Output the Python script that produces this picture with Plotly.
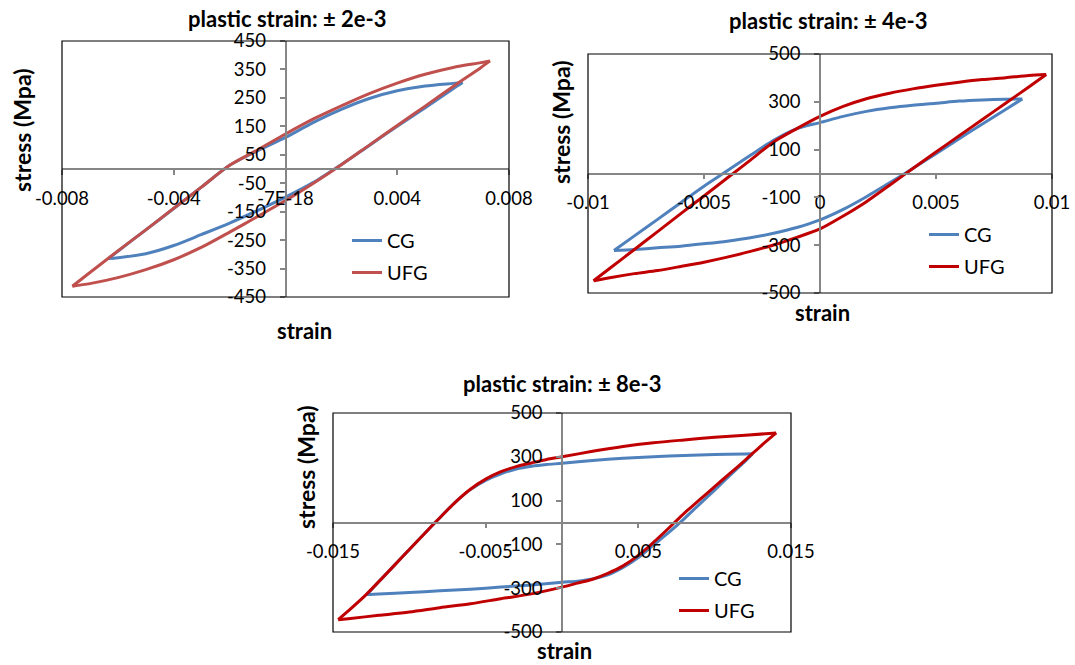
import plotly.graph_objects as go

W, H = 1075, 665
FONT = "Lato"

# ---------------- data (strain, stress in MPa) ----------------
# Panel 1: plastic strain +/- 2e-3
cg1_strain = [-0.00634, -0.006, -0.005, -0.004, -0.003, -0.002, -0.001, 0, 0.001, 0.002, 0.003, 0.004, 0.005, 0.006, 0.00634,
              0.006, 0.005, 0.004, 0.003, 0.002, 0.001, 0, -0.001, -0.002, -0.003, -0.004, -0.005, -0.006, -0.00634]
cg1_stress = [-315, -289, -214, -139, -63, 13, 64, 111, 164, 210, 248, 275, 292, 301, 304,
              282, 215, 150, 83, 16, -47, -99, -146, -190, -230, -269, -298, -312, -315]
ufg1_strain = [-0.00763, -0.007, -0.006, -0.005, -0.004, -0.003, -0.002, -0.001, 0, 0.001, 0.002, 0.003, 0.004, 0.005, 0.006, 0.007, 0.00732,
               0.007, 0.006, 0.005, 0.004, 0.003, 0.002, 0.001, 0, -0.001, -0.002, -0.003, -0.004, -0.005, -0.006, -0.007, -0.00763]
ufg1_stress = [-412, -364, -288, -214, -138, -63, 13, 67, 123, 176, 222, 265, 302, 333, 357, 374, 380,
               357, 290, 221, 153, 84, 15, -50, -111, -167, -222, -275, -319, -354, -382, -403, -412]

# Panel 2: plastic strain +/- 4e-3
cg2_strain = [-0.00888, -0.008, -0.007, -0.006, -0.005, -0.004, -0.003, -0.002, -0.001, 0, 0.001, 0.002, 0.003, 0.004, 0.005, 0.006, 0.007, 0.008, 0.00872,
              0.008, 0.007, 0.006, 0.005, 0.004, 0.003, 0.002, 0.001, 0, -0.001, -0.002, -0.003, -0.004, -0.005, -0.006, -0.007, -0.008, -0.00888]
cg2_stress = [-322, -261, -192, -122, -53, 11, 76, 139, 188, 213, 239, 260, 275, 286, 294, 303, 308, 311, 312,
              268, 207, 146, 83, 21, -39, -97, -150, -194, -226, -250, -269, -283, -294, -304, -311, -318, -322]
ufg2_strain = [-0.00976, -0.009, -0.008, -0.007, -0.006, -0.005, -0.004, -0.003, -0.002, -0.001, 0, 0.001, 0.002, 0.003, 0.004, 0.005, 0.006, 0.007, 0.008, 0.009, 0.00975,
               0.009, 0.008, 0.007, 0.006, 0.005, 0.004, 0.003, 0.002, 0.001, 0, -0.001, -0.002, -0.003, -0.004, -0.005, -0.006, -0.007, -0.008, -0.009, -0.00976]
ufg2_stress = [-449, -392, -318, -243, -168, -94, -19, 56, 132, 188, 239, 281, 313, 336, 354, 369, 382, 393, 401, 410, 414,
               362, 294, 226, 158, 90, 21, -49, -118, -178, -232, -267, -299, -326, -350, -371, -389, -406, -419, -435, -449]

# Panel 3: plastic strain +/- 8e-3
cg3_strain = [-0.01278, -0.012, -0.011, -0.010, -0.009, -0.008, -0.007, -0.006, -0.005, -0.004, -0.003, -0.002, -0.001, 0, 0.002, 0.004, 0.006, 0.008, 0.010, 0.012, 0.01249,
              0.012, 0.011, 0.010, 0.009, 0.008, 0.007, 0.006, 0.005, 0.004, 0.003, 0.002, 0.001, 0, -0.002, -0.004, -0.006, -0.008, -0.010, -0.012, -0.01278]
cg3_stress = [-329, -270, -197, -123, -50, 22, 92, 150, 192, 222, 244, 257, 265, 270, 283, 293, 300, 306, 310, 313, 314,
              280, 215, 148, 83, 17, -45, -102, -160, -205, -239, -258, -268, -273, -285, -295, -305, -312, -320, -326, -329]
ufg3_strain = [-0.01466, -0.014, -0.013, -0.012, -0.011, -0.010, -0.009, -0.008, -0.007, -0.006, -0.005, -0.004, -0.003, -0.002, -0.001, 0, 0.002, 0.004, 0.006, 0.008, 0.010, 0.012, 0.01403,
               0.013, 0.012, 0.011, 0.010, 0.009, 0.008, 0.007, 0.006, 0.005, 0.004, 0.003, 0.002, 0.001, 0, -0.002, -0.004, -0.006, -0.008, -0.010, -0.012, -0.014, -0.01466]
ufg3_stress = [-444, -404, -341, -270, -197, -123, -50, 22, 92, 152, 198, 232, 255, 272, 288, 300, 325, 347, 364, 377, 389, 398, 409,
               348, 285, 224, 164, 103, 42, -25, -90, -150, -198, -232, -259, -277, -295, -326, -348, -371, -389, -409, -424, -439, -444]

# tick labels
x1_ticks = [-0.008, -0.004, 0, 0.004, 0.008]
x1_text = ["-0.008", "-0.004", "-7E-18", "0.004", "0.008"]
y1_ticks = [-450, -350, -250, -150, -50, 50, 150, 250, 350, 450]
x2_ticks = [-0.01, -0.005, 0, 0.005, 0.01]
x2_text = ["-0.01", "-0.005", "0", "0.005", "0.01"]
y2_ticks = [-500, -300, -100, 100, 300, 500]
x3_ticks = [-0.015, -0.005, 0.005, 0.015]
x3_text = ["-0.015", "-0.005", "0.005", "0.015"]
y3_ticks = [-500, -300, -100, 100, 300, 500]

titles = ["plastic strain: \u00b1 2e-3", "plastic strain: \u00b1 4e-3", "plastic strain: \u00b1 8e-3"]
CG_COLOR = "#4F81BD"
UFG_COLORS = ["#C0504D", "#C00000", "#C00000"]

# ---------------- layout geometry (pixels) ----------------
boxes = [(62, 509, 41, 297), (588, 1052, 54, 293), (333, 791, 413, 632)]
xranges = [[-0.008, 0.008], [-0.01, 0.01], [-0.015, 0.015]]
yranges = [[-450, 450], [-500, 500], [-500, 500]]
xticks = [(x1_ticks, x1_text), (x2_ticks, x2_text), (x3_ticks, x3_text)]
yticks = [y1_ticks, y2_ticks, y3_ticks]
title_pos = [(287, 18), (828, 20), (562, 383)]
ytitle_pos = [(22, 130), (561, 122), (306, 467)]
xtitle_pos = [(304, 330), (822, 312), (564, 650)]
legend_pos = [(352, 240), (929, 234), (679, 578)]

data = [(cg1_strain, cg1_stress, ufg1_strain, ufg1_stress),
        (cg2_strain, cg2_stress, ufg2_strain, ufg2_stress),
        (cg3_strain, cg3_stress, ufg3_strain, ufg3_stress)]


def branches(xs, ys):
    """split a closed loop at its maximum strain into two branches"""
    k = xs.index(max(xs))
    return [(xs[:k + 1], ys[:k + 1]), (xs[k:], ys[k:])]


fig = go.Figure()
layout = dict(width=W, height=H, autosize=False,
              margin=dict(l=0, r=0, t=0, b=0, pad=0, autoexpand=False),
              paper_bgcolor="white", plot_bgcolor="white", showlegend=True,
              font=dict(family=FONT, color="black"))
annotations = []
shapes = []

for i in range(3):
    sfx = "" if i == 0 else str(i + 1)
    xa, ya = "x" + sfx, "y" + sfx
    lg = "legend" + sfx
    cgx, cgy, ux, uy = data[i]
    for name, xs, ys, col in (("CG", cgx, cgy, CG_COLOR), ("UFG", ux, uy, UFG_COLORS[i])):
        for j, (bx, by) in enumerate(branches(xs, ys)):
            fig.add_trace(go.Scatter(x=bx, y=by, mode="lines", name=name, xaxis=xa, yaxis=ya,
                                     line=dict(color=col, width=3, shape="spline", smoothing=0.8),
                                     legend=lg, legendgroup="%s%d" % (name, i), showlegend=(j == 0),
                                     hoverinfo="skip"))
    x0, x1, y0, y1 = boxes[i]
    xd = [x0 / W, x1 / W]
    yd = [1 - y1 / H, 1 - y0 / H]
    xmid = (xd[0] + xd[1]) / 2
    ymid = (yd[0] + yd[1]) / 2
    tv, tt = xticks[i]
    layout["xaxis" + sfx] = dict(domain=xd, range=xranges[i], anchor="free", position=ymid,
                                 showline=True, linecolor="#868686", linewidth=1.5,
                                 ticks="outside", ticklen=5, tickcolor="#868686", tickwidth=1.5,
                                 tickvals=tv, ticktext=tt, ticklabelstandoff=8, automargin=False,
                                 tickfont=dict(family=FONT, size=18.5, color="black"),
                                 showgrid=False, zeroline=False, fixedrange=True)
    layout["yaxis" + sfx] = dict(domain=yd, range=yranges[i], anchor="free", position=xmid,
                                 showline=True, linecolor="#868686", linewidth=1.5,
                                 ticks="outside", ticklen=5, tickcolor="#868686", tickwidth=1.5,
                                 tickvals=yticks[i], ticktext=[str(v) for v in yticks[i]],
                                 ticklabelstandoff=10, automargin=False,
                                 tickfont=dict(family=FONT, size=18.5, color="black"),
                                 showgrid=False, zeroline=False, fixedrange=True)
    shapes.append(dict(type="rect", xref=xa + " domain", yref=ya + " domain", x0=0, x1=1, y0=0, y1=1,
                       line=dict(color="black", width=1.2), layer="above"))
    tx, ty = title_pos[i]
    annotations.append(dict(text="<b>%s</b>" % titles[i], x=tx / W, y=1 - ty / H, xref="paper", yref="paper",
                            showarrow=False, xanchor="center", yanchor="middle",
                            font=dict(family=FONT, size=22, color="black")))
    tx, ty = ytitle_pos[i]
    annotations.append(dict(text="<b>stress (Mpa)</b>", x=tx / W, y=1 - ty / H, xref="paper", yref="paper",
                            showarrow=False, xanchor="center", yanchor="middle", textangle=-90,
                            font=dict(family=FONT, size=23, color="black")))
    tx, ty = xtitle_pos[i]
    annotations.append(dict(text="<b>strain</b>", x=tx / W, y=1 - ty / H, xref="paper", yref="paper",
                            showarrow=False, xanchor="center", yanchor="middle",
                            font=dict(family=FONT, size=22, color="black")))
    lx, ly = legend_pos[i]
    layout[lg] = dict(x=(lx - 5) / W, y=1 - (ly - 19) / H, xanchor="left", yanchor="top",
                      bgcolor="rgba(0,0,0,0)", borderwidth=0, tracegroupgap=3,
                      traceorder="grouped", font=dict(family=FONT, size=20, color="black"),
                      itemwidth=30)

layout["annotations"] = annotations
layout["shapes"] = shapes
fig.update_layout(**layout)
fig.write_html("out.html", config={"displayModeBar": False},
               post_script="document.body.style.margin='0';document.body.style.padding='0';")
